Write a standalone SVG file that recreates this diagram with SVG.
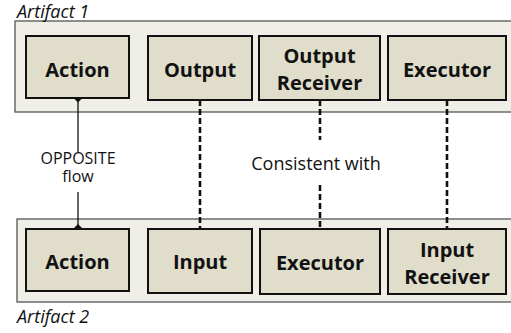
<svg xmlns="http://www.w3.org/2000/svg" width="511" height="333" viewBox="0 0 511 333">
<style>
.cont{fill:#efefe7;stroke:#555;stroke-width:1.3}
.box{fill:#e0ddcb;stroke:#111;stroke-width:2}
.lbl{font-family:"Open Sans","Liberation Sans",sans-serif;font-weight:bold;font-size:20px;fill:#111;text-anchor:middle}
.art{font-family:"Open Sans","Liberation Sans",sans-serif;font-style:italic;font-size:18px;fill:#111}
.note{font-family:"Open Sans","Liberation Sans",sans-serif;font-size:16px;fill:#111;text-anchor:middle}
.solid{stroke:#111;stroke-width:1.3;fill:none}
.dash{stroke:#111;stroke-width:2.6;stroke-dasharray:6,3;fill:none}
.dia{fill:#111}
</style>
<g id="artifact1">
<rect class="cont" x="15" y="21" width="500" height="91"/>
<text class="art" x="17" y="18">Artifact 1</text>
</g>
<g id="artifact2">
<rect class="cont" x="17" y="219" width="500" height="83"/>
<text class="art" x="17" y="323">Artifact 2</text>
</g>
<g id="connectors">
<path class="solid" d="M78,98 V152"/>
<path class="solid" d="M78,192 V229"/>
<path class="dia" d="M78,92.5 L83,97.5 L78,102.5 L73,97.5 Z"/>
<path class="dia" d="M78,224 L83,229 L78,234 L73,229 Z"/>
<text class="note" x="78" y="164">OPPOSITE</text>
<text class="note" x="78" y="182">flow</text>
<path class="dash" d="M200,100 V229"/>
<path class="dash" d="M320,100 V140"/>
<path class="dash" d="M320,185 V229"/>
<path class="dash" d="M447,100 V229"/>
<text class="note" x="316" y="170" style="font-size:18px">Consistent with</text>
</g>
<g id="action1"><rect class="box" x="26" y="36" width="103" height="62"/><text class="lbl" x="77.5" y="77">Action</text></g>
<g id="output1"><rect class="box" x="148" y="36" width="104" height="64"/><text class="lbl" x="200" y="77">Output</text></g>
<g id="outputreceiver1"><rect class="box" x="259" y="36" width="121" height="64"/><text class="lbl" x="319.5" y="63">Output</text><text class="lbl" x="319.5" y="90">Receiver</text></g>
<g id="executor1"><rect class="box" x="388" y="36" width="118" height="64"/><text class="lbl" x="447" y="77">Executor</text></g>
<g id="action2"><rect class="box" x="26" y="229" width="103" height="62"/><text class="lbl" x="77.5" y="269">Action</text></g>
<g id="input2"><rect class="box" x="148" y="229" width="104" height="64"/><text class="lbl" x="200" y="269">Input</text></g>
<g id="executor2"><rect class="box" x="260" y="229" width="120" height="65"/><text class="lbl" x="320" y="270">Executor</text></g>
<g id="inputreceiver2"><rect class="box" x="388" y="229" width="118" height="65"/><text class="lbl" x="447" y="257">Input</text><text class="lbl" x="447" y="284">Receiver</text></g>
</svg>
